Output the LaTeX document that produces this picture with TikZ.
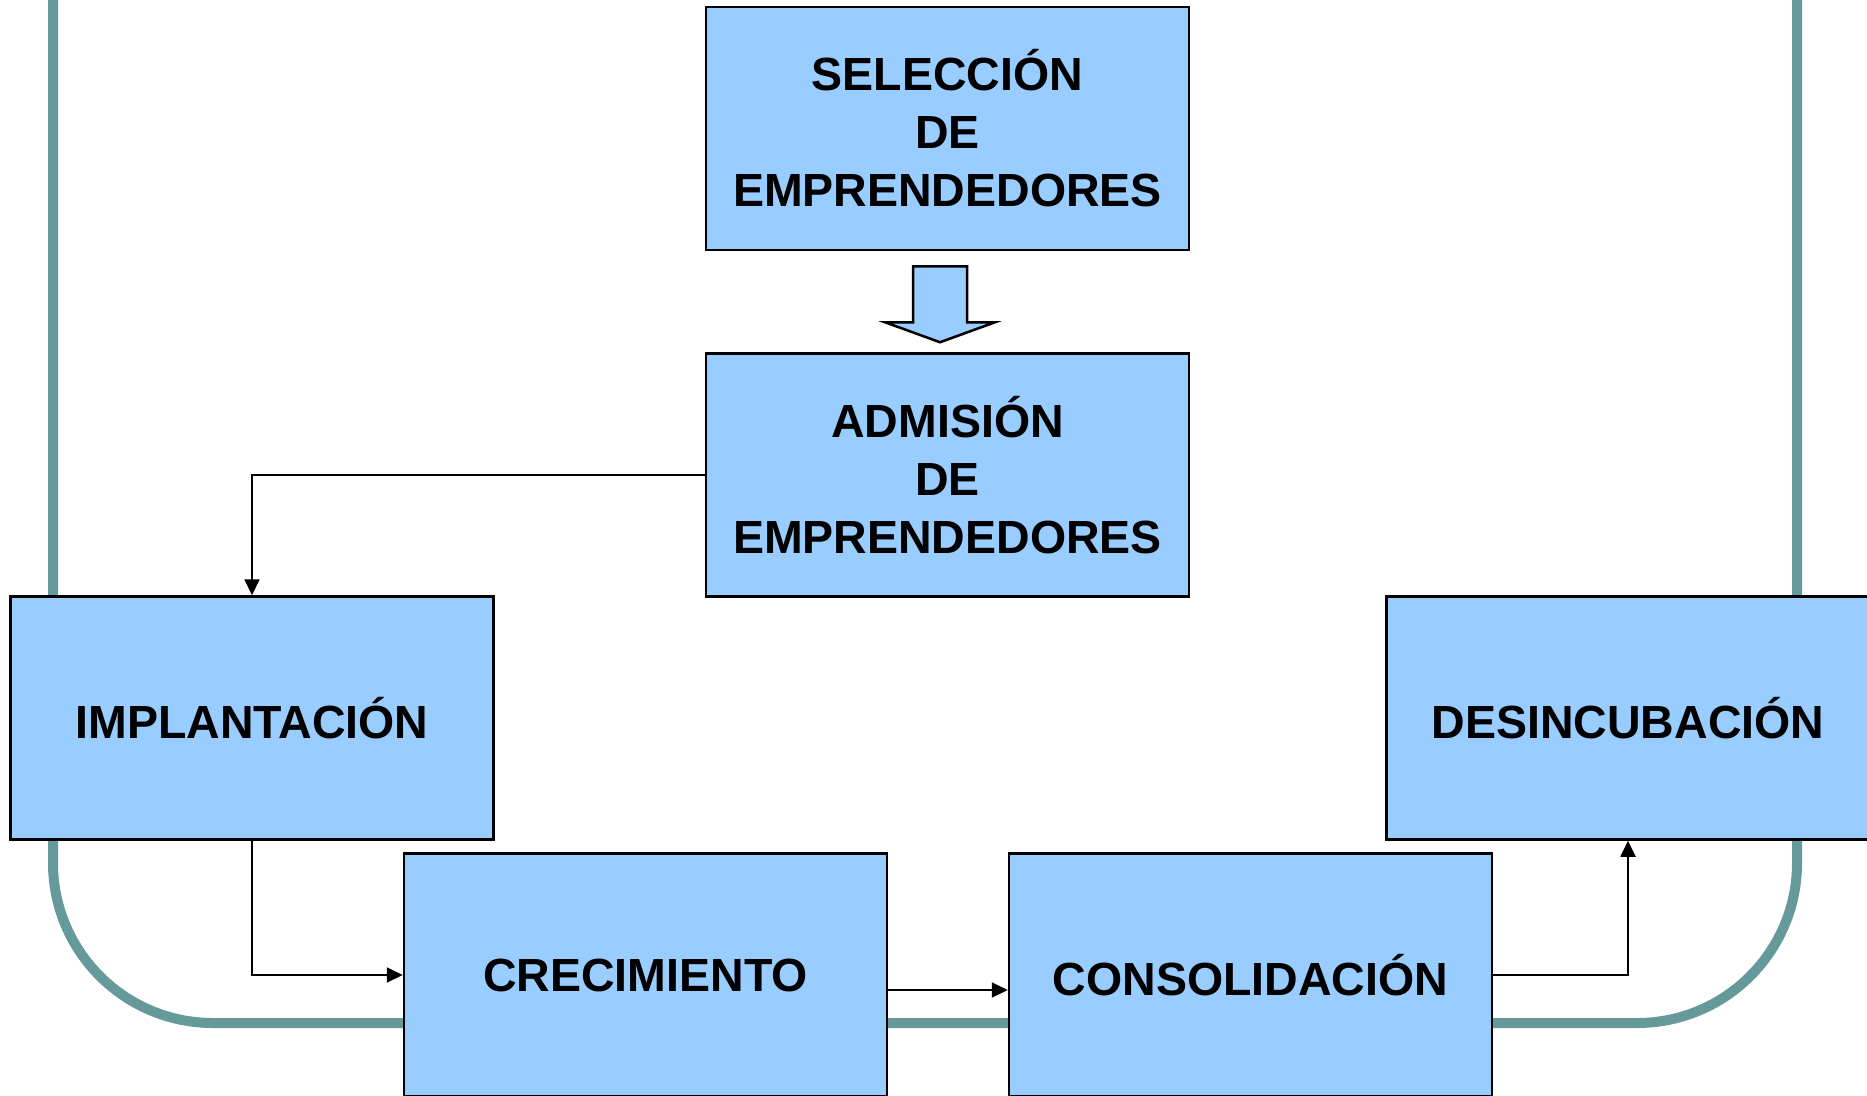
\documentclass[tikz,border=0pt]{standalone}
\usepackage{fontspec}
\setmainfont{Liberation Sans}
\usetikzlibrary{arrows.meta,calc}
\definecolor{boxblue}{RGB}{153,204,255}
\definecolor{teal}{RGB}{102,153,153}
\tikzset{
  stage/.style={draw=black, line width=2.5pt, fill=boxblue, align=center,
    minimum width=483pt, minimum height=243pt, inner sep=0pt,
    font=\fontsize{46.5pt}{58pt}\selectfont\bfseries},
  conn/.style={draw=black, line width=2pt, -{Triangle[length=16pt,width=15pt]}},
  frame/.style={draw=teal, line width=10pt, rounded corners=160pt},
  blockarrow/.style={draw=black, line width=2.5pt, fill=boxblue, line join=miter}
}
\begin{document}
\begin{tikzpicture}[x=1pt,y=-1pt]
\useasboundingbox (0,0) rectangle (1867,1095);
\clip (0,0) rectangle (1867,1095);
% teal frame
\draw[frame] (53,-400) -- (53,1023) -- (1797,1023) -- (1797,-400);
% stages
\node[stage] (sel) at (947.5,128.5) {SELECCIÓN\\DE\\EMPRENDEDORES};
\node[stage] (adm) at (947.5,475) {ADMISIÓN\\DE\\EMPRENDEDORES};
\node[stage] (imp) at (252,718) {IMPLANTACIÓN};
\node[stage] (des) at (1628,718) {DESINCUBACIÓN};
\node[stage] (cre) at (645.5,975) {CRECIMIENTO};
\node[stage] (con) at (1250.5,975) {CONSOLIDACIÓN};
% block arrow from sel to adm
\draw[blockarrow] ([xshift=-34.5pt,yshift=-15pt]sel.south) -- ++(54,0) -- ++(0,56)
  -- ++(28,0) -- ++(-55,20) -- ++(-55,-20) -- ++(28,0) -- cycle;
% connectors
\draw[conn] (adm.west) -| (imp.north);
\draw[conn] (imp.south) |- (cre.west);
\draw[conn] ([yshift=-15pt]cre.east) -- ([yshift=-15pt]con.west);
\draw[conn] (con.east) -| (des.south);
\end{tikzpicture}
\end{document}
